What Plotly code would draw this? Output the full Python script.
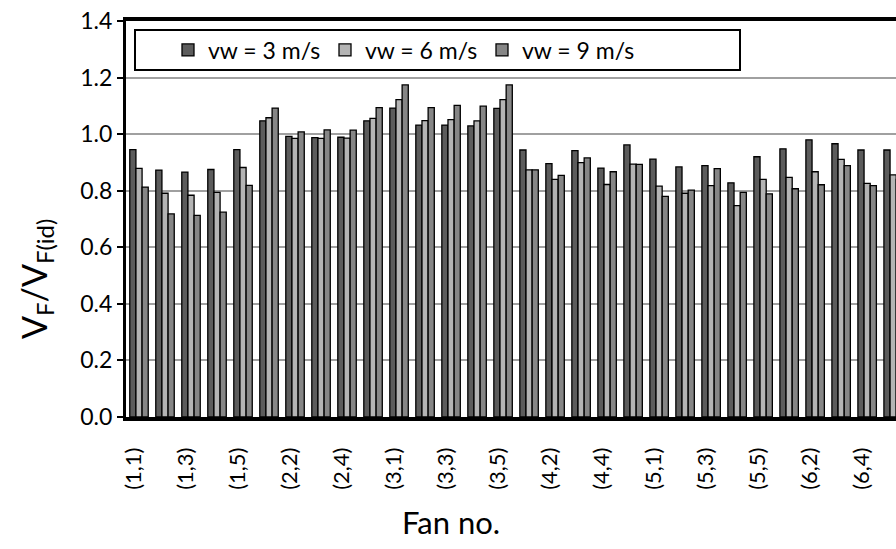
import plotly.graph_objects as go

# Fan positions (row, column) for the 6 x 5 fan array
fans = [f"({r},{c})" for r in range(1, 7) for c in range(1, 6)]

# Normalised fan velocity V_F / V_F(id) for each wind speed
vw3 = [0.945, 0.873, 0.866, 0.875, 0.945,
       1.047, 0.992, 0.988, 0.989, 1.047,
       1.092, 1.032, 1.032, 1.029, 1.091,
       0.944, 0.896, 0.942, 0.880, 0.962,
       0.912, 0.884, 0.889, 0.828, 0.920,
       0.948, 0.980, 0.966, 0.944, 0.944]
vw6 = [0.879, 0.791, 0.784, 0.794, 0.882,
       1.058, 0.985, 0.985, 0.986, 1.056,
       1.122, 1.048, 1.051, 1.047, 1.122,
       0.874, 0.840, 0.899, 0.822, 0.894,
       0.816, 0.791, 0.818, 0.747, 0.840,
       0.847, 0.867, 0.911, 0.826, 0.856]
vw9 = [0.813, 0.718, 0.713, 0.724, 0.819,
       1.092, 1.008, 1.015, 1.014, 1.094,
       1.174, 1.094, 1.102, 1.099, 1.174,
       0.874, 0.854, 0.916, 0.867, 0.893,
       0.780, 0.802, 0.878, 0.794, 0.789,
       0.807, 0.821, 0.889, 0.818, 0.840]

series = [("vw = 3 m/s", vw3, "#5c5c5c"),
          ("vw = 6 m/s", vw6, "#b4b4b4"),
          ("vw = 9 m/s", vw9, "#868686")]

FONT = "Lato"
W, H = 896, 549
L, R, T, B = 126, 0, 21, 132

fig = go.Figure()
for name, vals, color in series:
    fig.add_trace(go.Bar(
        x=fans, y=vals, name=name,
        marker=dict(color=color, line=dict(color="black", width=1.3)),
    ))

# helpers converting pixel positions to paper coordinates
pw, ph = W - L - R, H - T - B
def px_x(x):
    return (x - L) / pw
def px_y(y):
    return (H - B - y) / ph

# legend frame
fig.add_shape(type="rect", xref="paper", yref="paper",
              x0=px_x(135), x1=px_x(740), y0=px_y(70), y1=px_y(30),
              line=dict(color="black", width=2), fillcolor="white", layer="above")

# axis titles
fig.add_annotation(text="V<sub>F</sub>/V<sub>F(id)</sub>", textangle=-90,
                   xref="paper", yref="paper", x=px_x(36), y=px_y(279),
                   xanchor="center", yanchor="middle", showarrow=False,
                   font=dict(size=34, family=FONT, color="black"))
fig.add_annotation(text="Fan no.",
                   xref="paper", yref="paper", x=px_x(451), y=px_y(522),
                   xanchor="center", yanchor="middle", showarrow=False,
                   font=dict(size=31, family=FONT, color="black"))

fig.update_layout(
    width=W, height=H,
    margin=dict(l=L, r=R, t=T, b=B),
    paper_bgcolor="white", plot_bgcolor="white",
    barmode="group", bargap=0.29, bargroupgap=0,
    font=dict(family=FONT, color="black"),
    legend=dict(orientation="h", x=px_x(168), y=px_y(50),
                xanchor="left", yanchor="middle",
                bgcolor="rgba(0,0,0,0)", borderwidth=0,
                font=dict(size=23, family=FONT), entrywidth=112,
                entrywidthmode="pixels"),
    showlegend=True,
)

fig.update_xaxes(
    type="category", range=[-0.5, 29.11],
    tickmode="array", tickvals=fans[::2], ticktext=fans[::2],
    tickangle=-90, tickfont=dict(size=22, family=FONT),
    showline=True, linecolor="black", linewidth=3.5, mirror=True,
    ticks="outside", ticklen=18, tickcolor="rgba(0,0,0,0)",
    ticklabelshift=-5,
    showgrid=False,
)
fig.update_yaxes(
    range=[0, 1.4], dtick=0.2, tickformat=".1f",
    tickfont=dict(size=23, family=FONT),
    showline=True, linecolor="black", linewidth=3,
    ticks="outside", ticklen=6, tickwidth=1.5, tickcolor="black",
    showgrid=True, gridcolor="#a0a0a0", gridwidth=1.8,
    zeroline=False,
)

fig.write_html("out.html")
